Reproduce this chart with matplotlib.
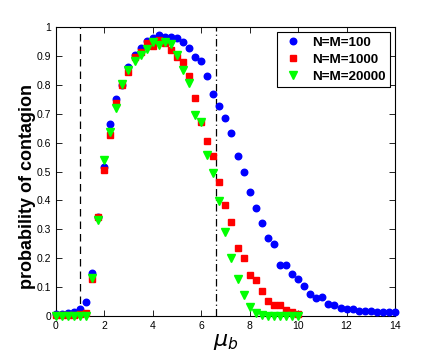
import numpy as np
import matplotlib.pyplot as plt

plt.rc('font', family='Liberation Sans')

# mu_b values (step 0.25)
mu_100 = np.arange(0, 14.01, 0.25)
mu_1000 = np.arange(0, 10.01, 0.25)
mu_20000 = np.arange(0, 10.01, 0.25)

p_100 = [0.008, 0.009, 0.010, 0.014, 0.023, 0.048, 0.150, 0.343, 0.517, 0.664,
         0.751, 0.800, 0.863, 0.905, 0.927, 0.953, 0.962, 0.973, 0.965, 0.964,
         0.962, 0.950, 0.929, 0.896, 0.883, 0.832, 0.768, 0.728, 0.684, 0.632,
         0.555, 0.497, 0.430, 0.373, 0.322, 0.270, 0.251, 0.178, 0.176, 0.147,
         0.130, 0.103, 0.078, 0.062, 0.065, 0.043, 0.037, 0.028, 0.024, 0.025,
         0.019, 0.019, 0.019, 0.016, 0.014, 0.014, 0.014, 0.014]
p_100 = p_100[:len(mu_100)]

p_1000 = [0.004, 0.004, 0.005, 0.005, 0.006, 0.011, 0.130, 0.343, 0.505, 0.627,
          0.736, 0.800, 0.843, 0.898, 0.912, 0.944, 0.936, 0.954, 0.944, 0.919,
          0.896, 0.879, 0.829, 0.756, 0.673, 0.607, 0.554, 0.465, 0.386, 0.326,
          0.237, 0.200, 0.141, 0.124, 0.086, 0.051, 0.037, 0.040, 0.022, 0.014,
          0.008, 0.006]
p_1000 = p_1000[:len(mu_1000)]

p_20000 = [0.001, 0.001, 0.001, 0.001, 0.001, 0.002, 0.133, 0.334, 0.540, 0.638,
           0.719, 0.802, 0.852, 0.881, 0.904, 0.925, 0.950, 0.939, 0.950, 0.941,
           0.902, 0.852, 0.808, 0.696, 0.671, 0.557, 0.494, 0.398, 0.291, 0.202,
           0.130, 0.074, 0.031, 0.010, 0.003, 0.001, 0.001, 0.001, 0.000, 0.000,
           0.000, 0.000]
p_20000 = p_20000[:len(mu_20000)]

mu_low = 1.0
mu_high = 6.6

fig = plt.figure(figsize=(4.36, 3.56), dpi=100)
ax = fig.add_axes([0.128, 0.112, 0.778, 0.812])

ax.axvline(mu_low, color='k', ls=(0, (6, 4)), lw=0.9)
ax.axvline(mu_high, color='k', ls=(0, (6, 2.5, 1, 2.5)), lw=0.9)

ax.plot(mu_100, p_100, ls='', marker='o', color='#0000ff', markersize=4.7,
        label='N=M=100', clip_on=False, zorder=3)
ax.plot(mu_1000, p_1000, ls='', marker='s', color='#ff0000', markersize=4.5,
        label='N=M=1000', clip_on=False, zorder=3)
ax.plot(mu_20000, p_20000, ls='', marker='v', color='#00ff00', markersize=5.2,
        label='N=M=20000', clip_on=False, zorder=3)

ax.set_xlim(0, 14)
ax.set_ylim(0, 1)
ax.set_xticks(np.arange(0, 15, 2))
ax.set_yticks(np.arange(0, 1.01, 0.1))
ax.set_yticklabels(['0', '0.1', '0.2', '0.3', '0.4', '0.5', '0.6', '0.7', '0.8', '0.9', '1'])
ax.tick_params(direction='in', top=True, right=True, labelsize=7.5, length=4, width=0.6)
for s in ax.spines.values():
    s.set_linewidth(0.8)

ax.set_xlabel(r'$\mu_b$', fontsize=16, labelpad=0)
ax.set_ylabel('probability of contagion', fontsize=13, fontweight='bold')
ax.yaxis.set_label_coords(-0.058, 0.448)

leg = ax.legend(loc='upper right', prop={'weight': 'bold', 'size': 9.7},
                fancybox=False, edgecolor='k', framealpha=1, borderaxespad=0.4,
                handletextpad=0.5, borderpad=0.3, labelspacing=0.35, handlelength=1.8)
leg.get_frame().set_linewidth(0.8)

plt.savefig('out.png', dpi=100)
